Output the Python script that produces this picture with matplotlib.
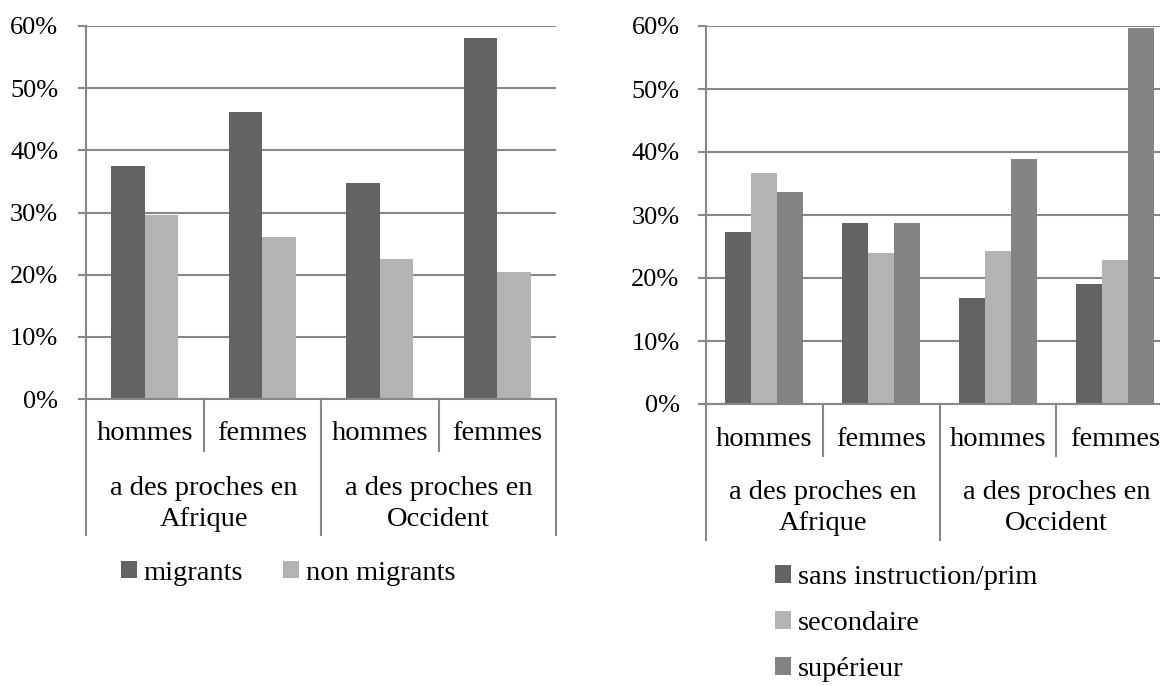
import numpy as np
import matplotlib
matplotlib.use("Agg")
import matplotlib.pyplot as plt
from matplotlib.transforms import blended_transform_factory

plt.rcParams['font.family'] = ['Liberation Serif', 'DejaVu Serif']

# -----------------------
# Data
# -----------------------
sub_labels = ["hommes", "femmes", "hommes", "femmes"]
group_labels = ["a des proches en\nAfrique", "a des proches en\nOccident"]

# left chart
migrants = [37.5, 46.2, 34.8, 58.1]
non_migrants = [29.6, 26.0, 22.5, 20.5]

# right chart
sans_instruction = [27.3, 28.7, 16.8, 19.0]
secondaire = [36.7, 23.9, 24.3, 22.9]
superieur = [33.6, 28.8, 38.9, 59.7]

y_ticks = [0, 10, 20, 30, 40, 50, 60]
y_tick_labels = ["0%", "10%", "20%", "30%", "40%", "50%", "60%"]

DARK = "#636363"
LIGHT = "#b3b3b3"
MID = "#838383"
GRID = "#878787"
FS = 20.5
TICK_FS = 19

W, H = 1160, 686
fig = plt.figure(figsize=(W / 100, H / 100), dpi=100)


def px_axes(left, right, top, bottom):
    return fig.add_axes([left / W, 1 - bottom / H, (right - left) / W, (bottom - top) / H])


def style_axes(ax, height_px, pad, group_off):
    ax.set_xlim(-0.5, 3.5)
    ax.set_ylim(0, 60)
    ax.set_yticks(y_ticks)
    ax.set_yticklabels(y_tick_labels)
    ax.set_xticks([])
    ax.tick_params(axis='y', length=6, width=1.5, color=GRID, pad=pad, labelsize=TICK_FS)
    ax.grid(axis='y', color=GRID, linewidth=1.5)
    ax.set_axisbelow(True)
    for s in ["top", "right"]:
        ax.spines[s].set_visible(False)
    for s in ["left", "bottom"]:
        ax.spines[s].set_color(GRID)
        ax.spines[s].set_linewidth(1.5)

    # two-level category axis
    tr = blended_transform_factory(ax.transData, ax.transAxes)
    f = lambda px: -px / height_px
    for i, lab in enumerate(sub_labels):
        ax.text(i, f(35), lab, transform=tr, ha='center', va='center', fontsize=FS)
    for g, lab in enumerate(group_labels):
        ax.text(2 * g + 0.5, f(group_off), lab, transform=tr, ha='center', va='center',
                fontsize=FS, linespacing=1.35)
    for xb in [0.5, 2.5]:
        ax.plot([xb, xb], [0, f(52)], transform=tr, color=GRID, lw=1.5, clip_on=False)
    for xb in [-0.5, 1.5, 3.5]:
        ax.plot([xb, xb], [0, f(136)], transform=tr, color=GRID, lw=1.5, clip_on=False)


x = np.arange(4)

# -----------------------
# Left chart
# -----------------------
ax1 = px_axes(86, 556, 26, 399)
w1 = 0.285
ax1.bar(x - w1 / 2, migrants, w1, color=DARK, label="migrants")
ax1.bar(x + w1 / 2, non_migrants, w1, color=LIGHT, label="non migrants")
style_axes(ax1, 399 - 26, 14, 105)
ax1.legend(loc='center left', bbox_to_anchor=(121 / W, 1 - 573 / H), bbox_transform=fig.transFigure,
           ncol=2, frameon=False, fontsize=FS, handlelength=0.55, handleheight=0.55,
           handletextpad=0.25, columnspacing=1.4, borderpad=0, borderaxespad=0)

# -----------------------
# Right chart (cut at the figure edge)
# -----------------------
ax2 = px_axes(706, 1173, 26, 404)
w2 = 0.222
ax2.bar(x - w2, sans_instruction, w2, color=DARK, label="sans instruction/prim")
ax2.bar(x, secondaire, w2, color=LIGHT, label="secondaire")
ax2.bar(x + w2, superieur, w2, color=MID, label="supérieur")
style_axes(ax2, 404 - 26, 13, 104)
ax2.legend(loc='upper left', bbox_to_anchor=(775 / W, 1 - 565 / H), bbox_transform=fig.transFigure,
           ncol=1, frameon=False, fontsize=FS, handlelength=0.55, handleheight=0.55,
           handletextpad=0.25, labelspacing=0.74, borderpad=0, borderaxespad=0)

fig.savefig("out.png", dpi=100)
